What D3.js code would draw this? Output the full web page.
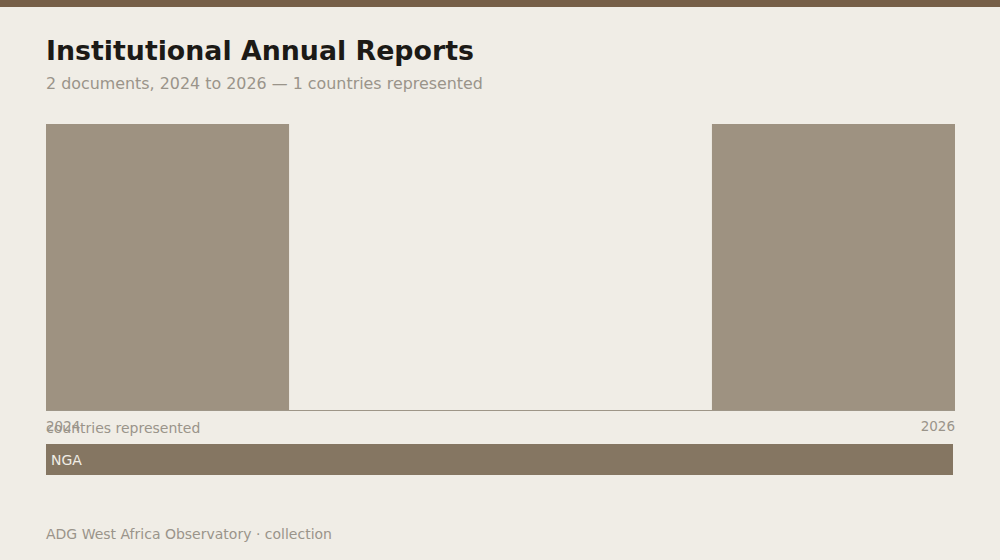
<!DOCTYPE html>
<html><head><meta charset="utf-8">
<script src="https://cdn.jsdelivr.net/npm/d3@7"></script>
<style>body{margin:0;background:#f0ede6;font-family:"DejaVu Sans",sans-serif}</style>
</head><body><svg id="c" width="1000" height="560"></svg>
<script>
const years = ["2024","2025","2026"];
const counts = [1,0,1];
const tickLabels = ["2024","2026"];
const countries = ["NGA"];
const countryCounts = [2];

const svg = d3.select("#c");
svg.append("rect").attr("width",1000).attr("height",560).attr("fill","#f0ede6");
svg.append("rect").attr("width",1000).attr("height",7).attr("fill","#765f48");
svg.append("text").attr("x",46).attr("y",60).attr("font-size",26.8).attr("font-weight","bold").attr("fill","#1c1a16").text("Institutional Annual Reports");
svg.append("text").attr("x",46).attr("y",89).attr("font-size",15.9).attr("fill","#9a948a").text("2 documents, 2024 to 2026 — 1 countries represented");

const x = d3.scaleBand().domain(years).range([46,955]).paddingInner(0.27).paddingOuter(0);
const y = d3.scaleLinear().domain([0,d3.max(counts)]).range([410,124]);
svg.selectAll(".bar").data(years).join("rect")
  .attr("x",d=>x(d)).attr("width",x.bandwidth())
  .attr("y",(d,i)=>y(counts[i])).attr("height",(d,i)=>410-y(counts[i]))
  .attr("fill","#9e9281");
svg.append("line").attr("x1",46).attr("x2",955).attr("y1",410.5).attr("y2",410.5).attr("stroke","#9e9688");
svg.append("text").attr("x",46).attr("y",431).attr("font-size",13.5).attr("fill","#9a948a").text(tickLabels[0]);
svg.append("text").attr("x",955).attr("y",431).attr("text-anchor","end").attr("font-size",13.5).attr("fill","#9a948a").text(tickLabels[1]);
svg.append("text").attr("x",46).attr("y",433).attr("font-size",14).attr("fill","#9a948a").text("countries represented");

const xc = d3.scaleLinear().domain([0,d3.sum(countryCounts)]).range([46,953]);
let acc=0;
countries.forEach((c,i)=>{
  const x0=xc(acc); acc+=countryCounts[i]; const x1=xc(acc);
  svg.append("rect").attr("x",x0).attr("y",444).attr("width",x1-x0).attr("height",31).attr("fill","#857662");
  svg.append("text").attr("x",x0+5).attr("y",465).attr("font-size",14).attr("fill","#f0ede6").text(c);
});
svg.append("text").attr("x",46).attr("y",539).attr("font-size",14).attr("fill","#9a948a").text("ADG West Africa Observatory · collection");
</script></body></html>
